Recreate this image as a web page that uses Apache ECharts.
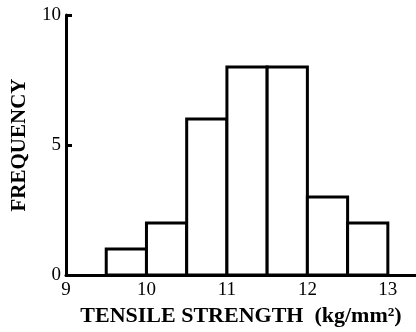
<!DOCTYPE html>
<html>
<head>
<meta charset="utf-8">
<script src="https://cdn.jsdelivr.net/npm/echarts@6/dist/echarts.min.js"></script>
<style>
  html, body { margin: 0; padding: 0; background: #fff; }
  #chart { width: 416px; height: 332px; }
</style>
</head>
<body>
<div id="chart"></div>
<script>
// histogram bins (kg/mm^2) and their counts
const binStart = [9.5, 10, 10.5, 11, 11.5, 12, 12.5]
const binEnd = [10, 10.5, 11, 11.5, 12, 12.5, 13]
const frequency = [1, 2, 6, 8, 8, 3, 2]

const serif = '"Liberation Serif", "DejaVu Serif", serif'

const bins = binStart.map(function (s, i) { return [s, binEnd[i], frequency[i]] })

const chart = echarts.init(document.getElementById('chart'))
chart.setOption({
  animation: false,
  // keep the grid exactly where it is set; don't let v6 shrink it for labels
  grid: { left: 66, right: 0, top: 15, bottom: 57, outerBoundsMode: 'none' },
  xAxis: {
    type: 'value',
    min: 9,
    max: 13.35,
    interval: 1,
    name: 'TENSILE STRENGTH  (kg/mm²)',
    nameLocation: 'middle',
    nameGap: 28,
    nameTextStyle: { fontFamily: serif, fontSize: 22, fontWeight: 'bold', color: '#000' },
    axisLine: { lineStyle: { color: '#000', width: 3 } },
    axisTick: { show: false },
    splitLine: { show: false },
    axisLabel: {
      margin: 6,
      fontFamily: serif,
      fontSize: 19,
      color: '#000',
      formatter: function (v) { return Number.isInteger(v) ? String(v) : '' }
    }
  },
  yAxis: {
    type: 'value',
    min: 0,
    max: 10,
    interval: 5,
    name: 'FREQUENCY',
    nameLocation: 'middle',
    nameGap: 36,
    nameTextStyle: { fontFamily: serif, fontSize: 21, fontWeight: 'bold', color: '#000' },
    axisLine: { show: true, lineStyle: { color: '#000', width: 3 } },
    axisTick: { show: true, inside: true, length: 6, lineStyle: { color: '#000', width: 3 } },
    splitLine: { show: false },
    axisLabel: { margin: 5, fontFamily: serif, fontSize: 19, color: '#000' }
  },
  series: [{
    type: 'custom',
    data: bins,
    renderItem: function (params, api) {
      const p0 = api.coord([api.value(0), 0])
      const p1 = api.coord([api.value(1), api.value(2)])
      return {
        type: 'rect',
        shape: { x: p0[0], y: p1[1], width: p1[0] - p0[0], height: p0[1] - p1[1] },
        style: { fill: '#fff', stroke: '#000', lineWidth: 3 }
      }
    }
  }]
})
</script>
</body>
</html>
